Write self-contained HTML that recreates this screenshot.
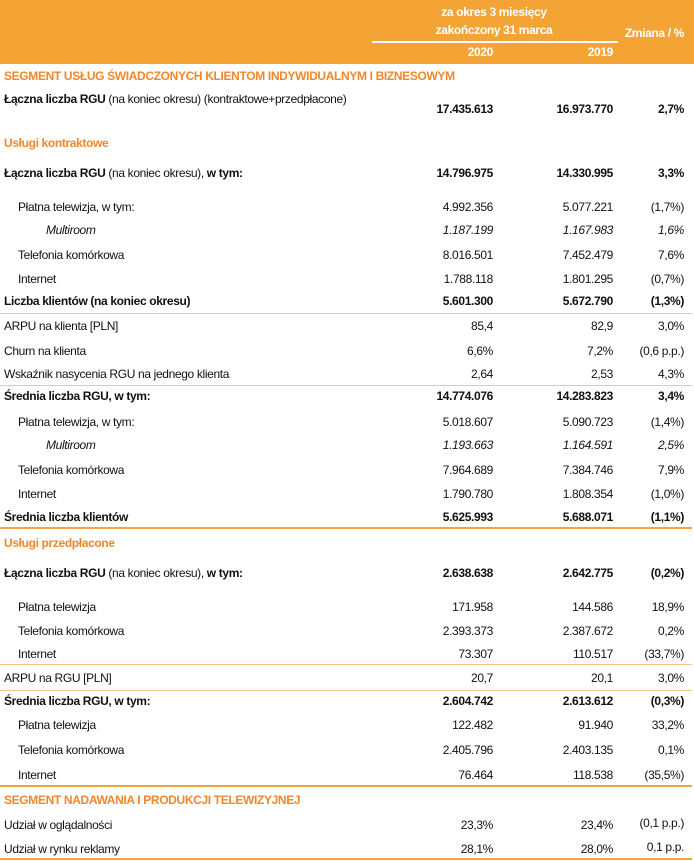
<!DOCTYPE html>
<html><head><meta charset="utf-8"><style>
body{margin:0;width:694px;height:861px;background:#fff;position:relative;overflow:hidden;font-family:"Liberation Sans",sans-serif;font-size:12px;color:#111;letter-spacing:-0.35px}
.hd{position:absolute;left:0;top:0;width:694px;height:64px;background:#F4A435}
.t{position:absolute;white-space:nowrap;line-height:14px;transform:translateY(-7px)}
.r{position:absolute;white-space:nowrap;line-height:14px;transform:translateY(-7px);text-align:right}
.w{color:#fff;font-weight:bold}
.o{color:#F0872A;font-weight:bold}
.b{font-weight:bold}
.i{font-style:italic}
.ln{position:absolute;left:0;width:692px;height:1px;background:#F6C58A}
.lt{position:absolute;left:0;width:692px;height:2px;background:#F0A445}
</style></head><body>
<div class="hd"></div>
<div class="t w" style="left:372px;width:244px;text-align:center;top:12px">za okres 3 miesięcy</div>
<div class="t w" style="left:372px;width:244px;text-align:center;top:30px">zakończony 31 marca</div>
<div style="position:absolute;left:372px;top:41px;width:246px;height:2px;background:#fff"></div>
<div class="r w" style="right:201px;top:52px">2020</div>
<div class="r w" style="right:81px;top:52px">2019</div>
<div class="r w" style="right:10px;top:33px">Zmiana / %</div>

<div class="t o" style="left:4px;top:76px">SEGMENT USŁUG ŚWIADCZONYCH KLIENTOM INDYWIDUALNYM I BIZNESOWYM</div>
<div class="t" style="left:4px;top:99px"><b>Łączna liczba RGU</b> (na koniec okresu) (kontraktowe+przedpłacone)</div>
<div class="r b" style="right:201px;top:109px">17.435.613</div><div class="r b" style="right:81px;top:109px">16.973.770</div><div class="r b" style="right:10px;top:109px">2,7%</div>

<div class="t o" style="left:4px;top:143px">Usługi kontraktowe</div>
<div class="t" style="left:4px;top:173px"><b>Łączna liczba RGU</b> (na koniec okresu), <b>w tym:</b></div>
<div class="r b" style="right:201px;top:173px">14.796.975</div><div class="r b" style="right:81px;top:173px">14.330.995</div><div class="r b" style="right:10px;top:173px">3,3%</div>

<div class="t" style="left:18px;top:207px">Płatna telewizja, w tym:</div>
<div class="r" style="right:201px;top:207px">4.992.356</div><div class="r" style="right:81px;top:207px">5.077.221</div><div class="r" style="right:10px;top:207px">(1,7%)</div>
<div class="t i" style="left:46px;top:230px">Multiroom</div>
<div class="r i" style="right:201px;top:230px">1.187.199</div><div class="r i" style="right:81px;top:230px">1.167.983</div><div class="r i" style="right:10px;top:230px">1,6%</div>
<div class="t" style="left:18px;top:255px">Telefonia komórkowa</div>
<div class="r" style="right:201px;top:255px">8.016.501</div><div class="r" style="right:81px;top:255px">7.452.479</div><div class="r" style="right:10px;top:255px">7,6%</div>
<div class="t" style="left:18px;top:279px">Internet</div>
<div class="r" style="right:201px;top:279px">1.788.118</div><div class="r" style="right:81px;top:279px">1.801.295</div><div class="r" style="right:10px;top:279px">(0,7%)</div>
<div class="t b" style="left:4px;top:301px">Liczba klientów (na koniec okresu)</div>
<div class="r b" style="right:201px;top:301px">5.601.300</div><div class="r b" style="right:81px;top:301px">5.672.790</div><div class="r b" style="right:10px;top:301px">(1,3%)</div>
<div class="ln" style="top:313px"></div>
<div class="t" style="left:4px;top:326px">ARPU na klienta [PLN]</div>
<div class="r" style="right:201px;top:326px">85,4</div><div class="r" style="right:81px;top:326px">82,9</div><div class="r" style="right:10px;top:326px">3,0%</div>
<div class="t" style="left:4px;top:351px">Churn na klienta</div>
<div class="r" style="right:201px;top:351px">6,6%</div><div class="r" style="right:81px;top:351px">7,2%</div><div class="r" style="right:10px;top:351px">(0,6 p.p.)</div>
<div class="t" style="left:4px;top:374px">Wskaźnik nasycenia RGU na jednego klienta</div>
<div class="r" style="right:201px;top:374px">2,64</div><div class="r" style="right:81px;top:374px">2,53</div><div class="r" style="right:10px;top:374px">4,3%</div>
<div class="ln" style="top:385px"></div>
<div class="t b" style="left:4px;top:396px">Średnia liczba RGU, w tym:</div>
<div class="r b" style="right:201px;top:396px">14.774.076</div><div class="r b" style="right:81px;top:396px">14.283.823</div><div class="r b" style="right:10px;top:396px">3,4%</div>
<div class="t" style="left:18px;top:422px">Płatna telewizja, w tym:</div>
<div class="r" style="right:201px;top:422px">5.018.607</div><div class="r" style="right:81px;top:422px">5.090.723</div><div class="r" style="right:10px;top:422px">(1,4%)</div>
<div class="t i" style="left:46px;top:445px">Multiroom</div>
<div class="r i" style="right:201px;top:445px">1.193.663</div><div class="r i" style="right:81px;top:445px">1.164.591</div><div class="r i" style="right:10px;top:445px">2,5%</div>
<div class="t" style="left:18px;top:470px">Telefonia komórkowa</div>
<div class="r" style="right:201px;top:470px">7.964.689</div><div class="r" style="right:81px;top:470px">7.384.746</div><div class="r" style="right:10px;top:470px">7,9%</div>
<div class="t" style="left:18px;top:494px">Internet</div>
<div class="r" style="right:201px;top:494px">1.790.780</div><div class="r" style="right:81px;top:494px">1.808.354</div><div class="r" style="right:10px;top:494px">(1,0%)</div>
<div class="t b" style="left:4px;top:517px">Średnia liczba klientów</div>
<div class="r b" style="right:201px;top:517px">5.625.993</div><div class="r b" style="right:81px;top:517px">5.688.071</div><div class="r b" style="right:10px;top:517px">(1,1%)</div>
<div class="lt" style="top:527px"></div>

<div class="t o" style="left:4px;top:543px">Usługi przedpłacone</div>
<div class="t" style="left:4px;top:573px"><b>Łączna liczba RGU</b> (na koniec okresu), <b>w tym:</b></div>
<div class="r b" style="right:201px;top:573px">2.638.638</div><div class="r b" style="right:81px;top:573px">2.642.775</div><div class="r b" style="right:10px;top:573px">(0,2%)</div>
<div class="t" style="left:18px;top:607px">Płatna telewizja</div>
<div class="r" style="right:201px;top:607px">171.958</div><div class="r" style="right:81px;top:607px">144.586</div><div class="r" style="right:10px;top:607px">18,9%</div>
<div class="t" style="left:18px;top:631px">Telefonia komórkowa</div>
<div class="r" style="right:201px;top:631px">2.393.373</div><div class="r" style="right:81px;top:631px">2.387.672</div><div class="r" style="right:10px;top:631px">0,2%</div>
<div class="t" style="left:18px;top:654px">Internet</div>
<div class="r" style="right:201px;top:654px">73.307</div><div class="r" style="right:81px;top:654px">110.517</div><div class="r" style="right:10px;top:654px">(33,7%)</div>
<div class="ln" style="top:664px"></div>
<div class="t" style="left:4px;top:678px">ARPU na RGU [PLN]</div>
<div class="r" style="right:201px;top:678px">20,7</div><div class="r" style="right:81px;top:678px">20,1</div><div class="r" style="right:10px;top:678px">3,0%</div>
<div class="ln" style="top:690px"></div>
<div class="t b" style="left:4px;top:701px">Średnia liczba RGU, w tym:</div>
<div class="r b" style="right:201px;top:701px">2.604.742</div><div class="r b" style="right:81px;top:701px">2.613.612</div><div class="r b" style="right:10px;top:701px">(0,3%)</div>
<div class="t" style="left:18px;top:725px">Płatna telewizja</div>
<div class="r" style="right:201px;top:725px">122.482</div><div class="r" style="right:81px;top:725px">91.940</div><div class="r" style="right:10px;top:725px">33,2%</div>
<div class="t" style="left:18px;top:750px">Telefonia komórkowa</div>
<div class="r" style="right:201px;top:750px">2.405.796</div><div class="r" style="right:81px;top:750px">2.403.135</div><div class="r" style="right:10px;top:750px">0,1%</div>
<div class="t" style="left:18px;top:775px">Internet</div>
<div class="r" style="right:201px;top:775px">76.464</div><div class="r" style="right:81px;top:775px">118.538</div><div class="r" style="right:10px;top:775px">(35,5%)</div>
<div class="lt" style="top:785px"></div>

<div class="t o" style="left:4px;top:800px">SEGMENT NADAWANIA I PRODUKCJI TELEWIZYJNEJ</div>
<div class="t" style="left:4px;top:825px">Udział w oglądalności</div>
<div class="r" style="right:201px;top:825px">23,3%</div><div class="r" style="right:81px;top:825px">23,4%</div><div class="r" style="right:10px;top:823px">(0,1 p.p.)</div>
<div class="t" style="left:4px;top:849px">Udział w rynku reklamy</div>
<div class="r" style="right:201px;top:849px">28,1%</div><div class="r" style="right:81px;top:849px">28,0%</div><div class="r" style="right:10px;top:847px">0,1 p.p.</div>
<div class="lt" style="top:858px"></div>
</body></html>
